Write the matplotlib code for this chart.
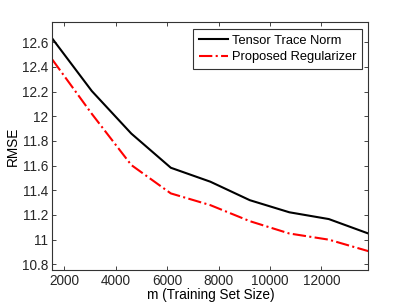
import matplotlib
matplotlib.use("Agg")
import matplotlib.pyplot as plt
from matplotlib.ticker import FixedLocator

plt.rcParams['font.family'] = ['Liberation Sans', 'DejaVu Sans']

# training set sizes (multiples of 1536)
m_sizes = [1536, 3072, 4608, 6144, 7680, 9216, 10752, 12288, 13824]
rmse_trace = [12.63, 12.205, 11.86, 11.583, 11.47, 11.32, 11.222, 11.167, 11.05]
rmse_proposed = [12.46, 12.02, 11.605, 11.375, 11.28, 11.15, 11.05, 11.0, 10.907]

xticks = [2000, 4000, 6000, 8000, 10000, 12000]
yticks = [10.8, 11, 11.2, 11.4, 11.6, 11.8, 12, 12.2, 12.4, 12.6]
ytick_labels = ['10.8', '11', '11.2', '11.4', '11.6', '11.8', '12', '12.2', '12.4', '12.6']

fig = plt.figure(figsize=(4.07, 3.04), dpi=100)
ax = fig.add_axes([0.1285, 0.1118, 0.7765, 0.8148])

ax.plot(m_sizes, rmse_trace, color='black', lw=1.5, label='Tensor Trace Norm')
ax.plot(m_sizes, rmse_proposed, color='red', lw=1.5, ls='-.', label='Proposed Regularizer')

ax.set_xlim(1536, 13824)
ax.set_ylim(10.754, 12.762)
ax.xaxis.set_major_locator(FixedLocator(xticks))
ax.set_yticks(yticks)
ax.set_yticklabels(ytick_labels)
ax.tick_params(direction='in', top=True, right=True, length=3, width=0.6,
               labelsize=9.8, colors='#262626', pad=3)
for sp in ax.spines.values():
    sp.set_color('#333333')
    sp.set_linewidth(0.8)

ax.set_xlabel('m (Training Set Size)', fontsize=9.8, labelpad=0)
ax.set_ylabel('RMSE', fontsize=9.8, labelpad=1)

leg = ax.legend(loc='upper right', fontsize=9.3, fancybox=False, framealpha=1,
                edgecolor='#333333', handlelength=2.2, handletextpad=0.3,
                borderpad=0.45, labelspacing=0.35, borderaxespad=0.5)
leg.get_frame().set_linewidth(0.8)

fig.savefig('out.png', dpi=100)
